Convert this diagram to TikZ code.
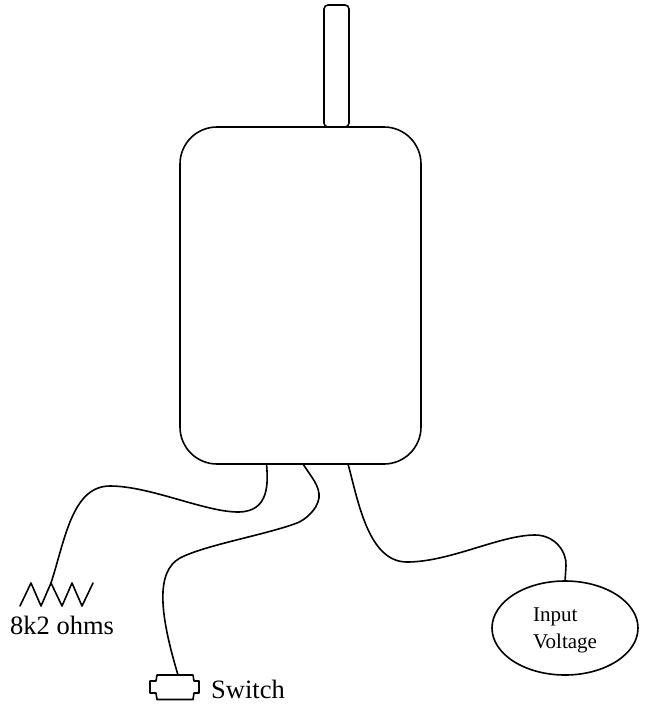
\documentclass[tikz,border=0pt]{standalone}
\usepackage{fontspec}
\setmainfont{Liberation Serif}
\usetikzlibrary{shapes.geometric}
\tikzset{
  ink/.style={draw=black,line width=1.6pt},
  wire/.style={ink,line cap=round,line join=round},
  lbl/.style={inner sep=0pt,anchor=base west,font=\fontsize{26.5}{30}\selectfont},
  small/.style={inner sep=0pt,anchor=base west,font=\fontsize{21}{25}\selectfont},
}
\begin{document}
\begin{tikzpicture}[x=1pt,y=-1pt]
\useasboundingbox (0,0) rectangle (650,704);
\node[ink,rounded corners=37pt,minimum width=241pt,minimum height=337pt,inner sep=0pt,outer sep=0pt] (box) at (300.5,295.5) {};
\node[ink,rounded corners=4pt,minimum width=25pt,minimum height=122pt,inner sep=0pt,outer sep=0pt] (ant) at (336.5,66) {};
\node[ink,ellipse,minimum width=146pt,minimum height=94pt,inner sep=0pt,outer sep=0pt] (inp) at (565,628) {};
\node[small] (t1) at (533,621) {Input};
\node[small] (t2) at (533,648) {Voltage};
\node[lbl] (t3) at (10,634) {8k2 ohms};
\node[lbl] (t4) at (211,698) {Switch};
% resistor
\coordinate (rtap) at (51,583);
\draw[wire] (20,606) -- (31,583) -- (41,606) -- (rtap) -- (62,606) -- (72,583) -- (82,606) -- (93,583);
% switch
\coordinate (stop) at (178,675);
\draw[wire] (157,675) -- (156,681) -- (150,681) -- (150,693) -- (156,693) -- (157,699.5) -- (193,699.5) -- (194,693) -- (199,693) -- (199,681) -- (194,681) -- (193,675) -- cycle;
% wire anchors on the box
\coordinate (w1) at (box.south -| 266.5,0);
\coordinate (w2) at (box.south -| 303,0);
\coordinate (w3) at (box.south -| 348,0);
\coordinate (w4) at (inp.north -| 565,0);
\draw[wire] (w1) .. controls (268,482) and (270,512) .. (238,512)
  .. controls (205,512) and (150,486) .. (110,486)
  .. controls (72,486) and (65,540) .. (rtap);
\draw[wire] (w2) .. controls (312,478) and (320,486) .. (319,498)
  .. controls (317,510) and (305,520) .. (297,523)
  .. controls (265,535) and (205,545) .. (180,558)
  .. controls (155,572) and (160,615) .. (stop);
\draw[wire] (w3) .. controls (358,500) and (368,562) .. (407,562)
  .. controls (450,562) and (500,535) .. (535,535)
  .. controls (555,535) and (567,552) .. (566,566)
  -- (w4);
\end{tikzpicture}
\end{document}
